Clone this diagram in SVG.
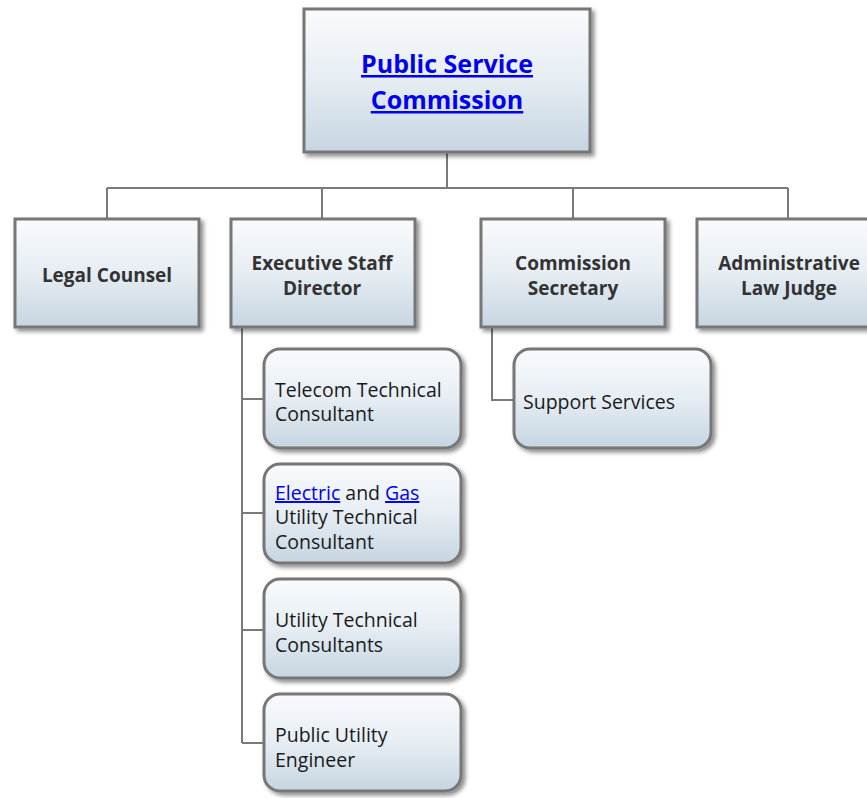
<svg xmlns="http://www.w3.org/2000/svg" width="867" height="798" viewBox="0 0 867 798">
<defs>
<linearGradient id="g" x1="0" y1="0" x2="0" y2="1">
<stop offset="0" stop-color="#f9fbfd"/>
<stop offset="0.5" stop-color="#e6edf3"/>
<stop offset="1" stop-color="#c6d5e1"/>
</linearGradient>
<filter id="sh" x="-10%" y="-10%" width="130%" height="130%">
<feDropShadow dx="3" dy="3" stdDeviation="2" flood-color="#000" flood-opacity="0.45"/>
</filter>
</defs>
<style>
.box{fill:url(#g);stroke:#767676;stroke-width:3;filter:url(#sh)}
.ln{fill:none;stroke:#7a7a7a;stroke-width:2}
.b{font-family:"Open Sans","Noto Sans",sans-serif;font-weight:bold;font-size:19px;fill:#333;text-anchor:middle}
.r{font-family:"Open Sans","Noto Sans",sans-serif;font-size:19.5px;fill:#1a1a1a}
.t{font-family:"Open Sans","Noto Sans",sans-serif;font-weight:bold;font-size:25px;fill:#0000ee;text-anchor:middle;text-decoration:underline}
.lk{fill:#0000ee;text-decoration:underline}
</style>
<g id="connectors">
<path class="ln" d="M447 153V188M107 188H788M107 188V218M322 188V218M573 188V218M788 188V218"/>
<path class="ln" d="M242 328V743M242 399H263M242 513H263M242 630H263M242 743H263"/>
<path class="ln" d="M492 328V400H513"/>
</g>
<g id="psc">
<rect class="box" x="304" y="9" width="286" height="143"/>
<text class="t" x="447" y="73">Public Service</text>
<text class="t" x="447" y="109">Commission</text>
</g>
<g id="legal">
<rect class="box" x="15" y="219" width="184" height="108"/>
<text class="b" x="107" y="282">Legal Counsel</text>
</g>
<g id="exec">
<rect class="box" x="231" y="219" width="184" height="108"/>
<text class="b" x="322" y="270">Executive Staff</text>
<text class="b" x="322" y="295">Director</text>
</g>
<g id="secretary">
<rect class="box" x="481" y="219" width="184" height="108"/>
<text class="b" x="573" y="270">Commission</text>
<text class="b" x="573" y="295">Secretary</text>
</g>
<g id="alj">
<rect class="box" x="697" y="219" width="184" height="108"/>
<text class="b" x="789" y="270">Administrative</text>
<text class="b" x="789" y="295">Law Judge</text>
</g>
<g id="telecom">
<rect class="box" x="264" y="349" width="197" height="99" rx="16"/>
<text class="r" x="275" y="397">Telecom Technical</text>
<text class="r" x="275" y="421">Consultant</text>
</g>
<g id="electric">
<rect class="box" x="264" y="464" width="197" height="99" rx="16"/>
<text class="r" x="275" y="500"><tspan class="lk">Electric</tspan> and <tspan class="lk">Gas</tspan></text>
<text class="r" x="275" y="524">Utility Technical</text>
<text class="r" x="275" y="549">Consultant</text>
</g>
<g id="utc">
<rect class="box" x="264" y="579" width="197" height="99" rx="16"/>
<text class="r" x="275" y="627">Utility Technical</text>
<text class="r" x="275" y="652">Consultants</text>
</g>
<g id="pue">
<rect class="box" x="264" y="694" width="197" height="97" rx="16"/>
<text class="r" x="275" y="742">Public Utility</text>
<text class="r" x="275" y="767">Engineer</text>
</g>
<g id="support">
<rect class="box" x="514" y="349" width="197" height="99" rx="16"/>
<text class="r" x="523" y="409">Support Services</text>
</g>
</svg>
